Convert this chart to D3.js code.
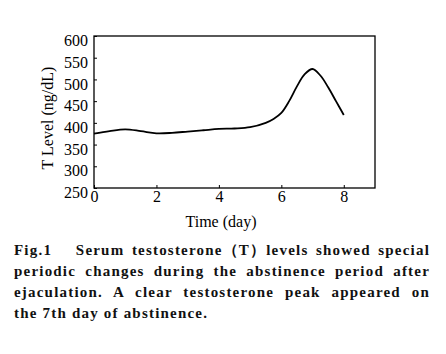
<!DOCTYPE html>
<html><head><meta charset="utf-8">
<script src="https://cdn.jsdelivr.net/npm/d3@7"></script>
<style>body{margin:0;background:#fff}</style>
</head><body>
<svg id="c" width="446" height="354"></svg>
<script>
const days = [0,0.5,1,1.5,2,2.5,3,3.5,4,4.5,5,5.5,5.75,6,6.25,6.5,6.75,7,7.25,7.5,7.75,8];
const tLevel = [375,381,385,381,376,377,380,383,386,387,390,400,409,423,450,484,512,524,509,482,450,418];
const xTicks = [0,2,4,6,8];
const yTicks = [250,300,350,400,450,500,550,600];
const captionLines = [
  "Fig.1\u2003 Serum testosterone\uFF08T\uFF09levels showed special",
  "periodic changes during the abstinence period after",
  "ejaculation. A clear testosterone peak appeared on",
  "the 7th day of abstinence."
];

const svg = d3.select("#c");
const L=94, R=375, T=36, B=188;
const x = d3.scaleLinear().domain([0,9]).range([L,R]);
const y = d3.scaleLinear().domain([250,600]).range([B,T]);
const font = "'Liberation Serif','Times New Roman',serif";

svg.append("rect").attr("x",L).attr("y",T).attr("width",R-L).attr("height",B-T)
  .attr("fill","none").attr("stroke","#000").attr("stroke-width",1.3);

const ya = svg.append("g").attr("transform",`translate(${L},0)`)
  .call(d3.axisLeft(y).tickValues(yTicks).tickSizeInner(-3).tickSizeOuter(0).tickPadding(6));
const xa = svg.append("g").attr("transform",`translate(0,${B})`)
  .call(d3.axisBottom(x).tickValues(xTicks).tickSizeInner(-3).tickSizeOuter(0).tickPadding(3));
[ya,xa].forEach(g=>{
  g.select(".domain").remove();
  g.selectAll("text").attr("font-family",font).attr("font-size",16).attr("fill","#000");
  g.selectAll("line").attr("stroke","#000");
});
ya.selectAll("text").attr("dy","0.6em");

svg.append("text").attr("transform",`translate(53,${(T+B)/2+6}) rotate(-90)`)
  .attr("text-anchor","middle").attr("font-family",font).attr("font-size",16)
  .text("T Level (ng/dL)");
svg.append("text").attr("x",221).attr("y",227).attr("text-anchor","middle")
  .attr("font-family",font).attr("font-size",16).text("Time (day)");

const line = d3.line().x((d,i)=>x(days[i])).y(d=>y(d)).curve(d3.curveCatmullRom.alpha(0.5));
svg.append("path").datum(tLevel).attr("d",line).attr("fill","none")
  .attr("stroke","#000").attr("stroke-width",1.8);

captionLines.forEach((t,i)=>{
  const el = svg.append("text").attr("x",14).attr("y",255+i*21)
    .attr("font-family",font).attr("font-weight","bold").attr("font-size",15)
    .attr("letter-spacing","1.2px").attr("fill","#111").text(t);
  if(i<3){
    const w = el.node().getComputedTextLength();
    const nSp = (t.match(/ /g)||[]).length;
    el.attr("word-spacing", ((416 - w)/nSp) + "px");
  }
});
</script>
</body></html>
